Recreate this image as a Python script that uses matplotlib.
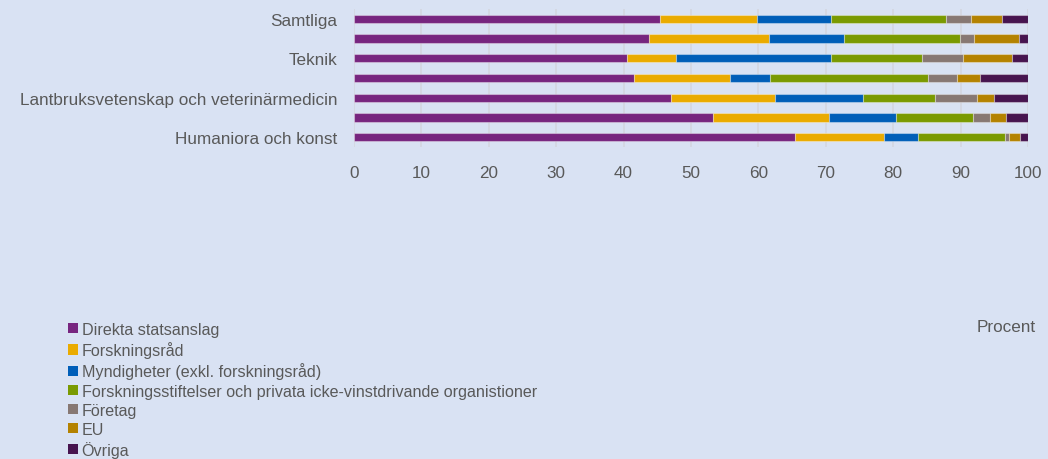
import matplotlib.pyplot as plt
from matplotlib.patches import Patch

# Forskningsfinansiering per forskningsämnesområde (procent)
categories = ['Samtliga', 'Naturvetenskap', 'Teknik', 'Medicin och hälsovetenskap',
              'Lantbruksvetenskap och veterinärmedicin', 'Samhällsvetenskap',
              'Humaniora och konst']
shown_labels = ['Samtliga', '', 'Teknik', '', 'Lantbruksvetenskap och veterinärmedicin',
                '', 'Humaniora och konst']

series_names = ['Direkta statsanslag', 'Forskningsråd', 'Myndigheter (exkl. forskningsråd)',
                'Forskningsstiftelser och privata icke-vinstdrivande organistioner',
                'Företag', 'EU', 'Övriga']

direkta = [45.4, 43.7, 40.5, 41.5, 47.1, 53.2, 65.4]
forskningsrad = [14.4, 17.9, 7.3, 14.3, 15.3, 17.3, 13.2]
myndigheter = [11.0, 11.1, 23.0, 5.9, 13.1, 9.9, 5.1]
stiftelser = [17.0, 17.2, 13.5, 23.4, 10.7, 11.4, 12.9]
foretag = [3.7, 2.1, 6.0, 4.3, 6.2, 2.5, 0.6]
eu = [4.6, 6.6, 7.4, 3.5, 2.5, 2.5, 1.6]
ovriga = [3.9, 1.4, 2.3, 7.1, 5.1, 3.2, 1.2]

colors = ['#77257f', '#eaab00', '#005eb8', '#7a9a01', '#877873', '#b48200', '#47144f']

bg = '#d9e2f3'
text_col = '#595959'

plt.rcParams['font.family'] = ['Liberation Sans', 'DejaVu Sans']

fig = plt.figure(figsize=(10.48, 4.6), dpi=100, facecolor=bg)
ax = fig.add_axes([354 / 1048, 1 - 148 / 460, (1028 - 354) / 1048, 138 / 460])
ax.set_facecolor(bg)

y = list(range(len(categories)))
left = [0.0] * len(categories)
all_series = [direkta, forskningsrad, myndigheter, stiftelser, foretag, eu, ovriga]
for vals, col in zip(all_series, colors):
    ax.barh(y, vals, left=left, height=0.42, color=col,
            edgecolor=(1, 1, 1, 0.35), linewidth=0.8, zorder=3)
    left = [a + b for a, b in zip(left, vals)]

ax.set_xlim(0, 100)
ax.set_ylim(len(categories) - 0.5, -0.5)
ax.set_xticks(range(0, 101, 10))
ax.set_yticks(y)
ax.set_yticklabels(shown_labels)
ax.tick_params(axis='both', length=0, colors=text_col, labelsize=12.3)
ax.tick_params(axis='x', pad=13)
ax.tick_params(axis='y', pad=12)
ax.grid(axis='x', color='#d3d6e0', linewidth=1.2, zorder=0)
for s in ax.spines.values():
    s.set_visible(False)

handles = [Patch(facecolor=c, edgecolor='none') for c in colors]
fig.legend(handles, series_names, loc='upper left', bbox_to_anchor=(60 / 1048, 1 - 315 / 460),
           frameon=False, fontsize=11.6, labelcolor=text_col, handlelength=0.6,
           handleheight=0.6, handletextpad=0.25, labelspacing=0.26, borderpad=0)

fig.text(1036 / 1048, 1 - 328 / 460, 'Procent', ha='right', va='center',
         fontsize=12.3, color=text_col)

fig.savefig('out.png', dpi=100, facecolor=bg)
